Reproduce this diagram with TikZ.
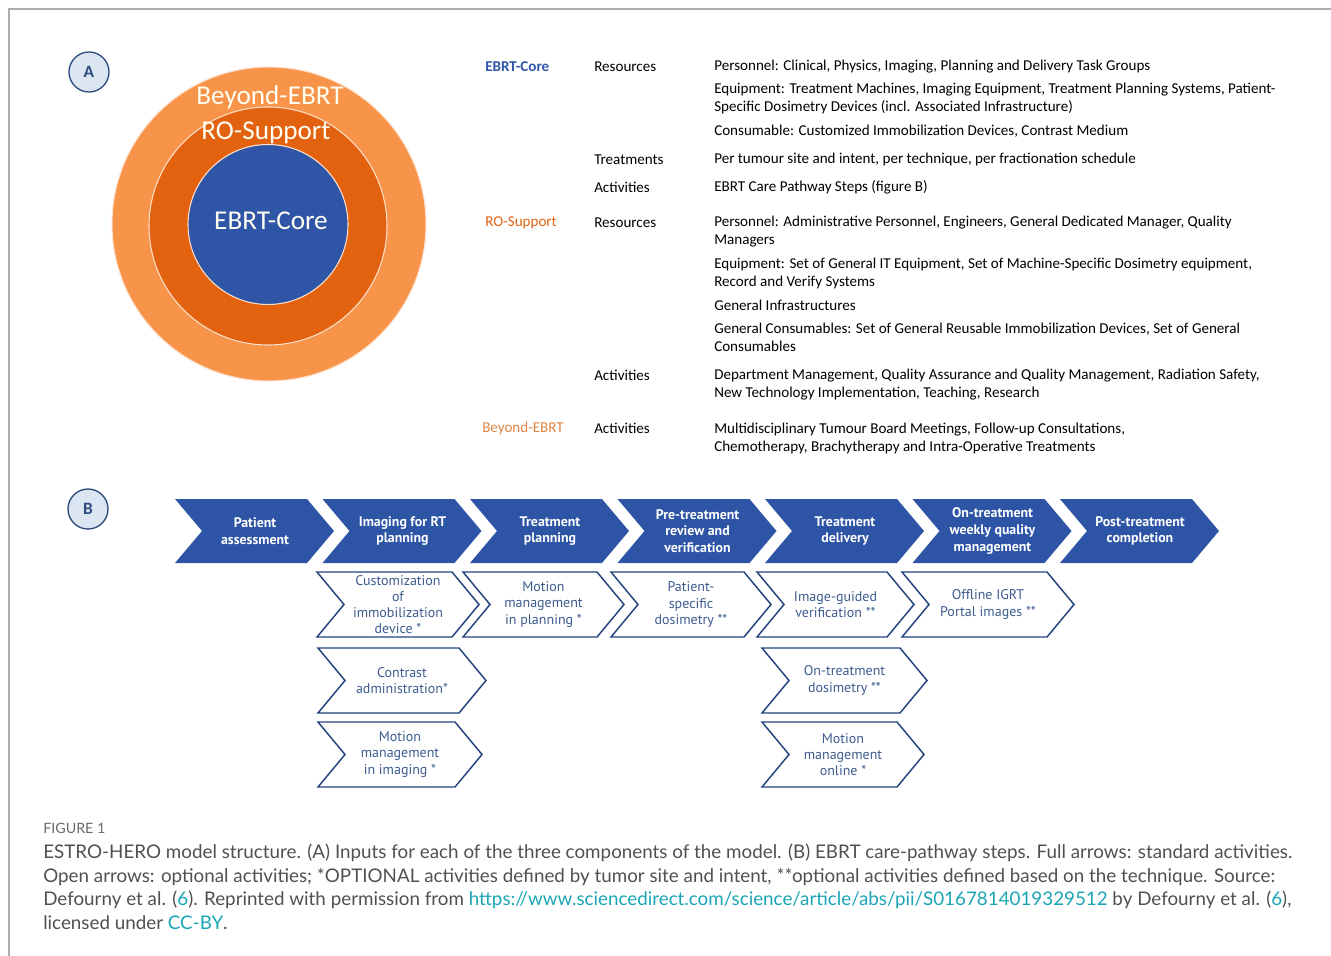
\documentclass[tikz,border=0pt]{standalone}
\usepackage{fontspec}
\setmainfont{Carlito}
\newfontfamily\stepfont{PT Sans}
\newfontfamily\capfont{Lato}
\usetikzlibrary{positioning}
\definecolor{coreblue}{HTML}{2F56A6}
\definecolor{suporange}{HTML}{E2620F}
\definecolor{beyorange}{HTML}{F7944A}
\definecolor{stepblue}{HTML}{2E55A5}
\definecolor{stepline}{HTML}{24437E}
\definecolor{opttext}{HTML}{3D5C8F}
\definecolor{tagdark}{HTML}{2D4C7E}
\definecolor{taglight}{HTML}{DCE6F2}
\definecolor{capgrey}{HTML}{505050}
\definecolor{linkteal}{HTML}{1AA5B5}
\definecolor{framegrey}{gray}{0.68}
\tikzset{
  ring/.style={circle,inner sep=0pt,draw=white!70!beyorange,line width=0.8pt},
  ringtxt/.style={text=white!95!yellow,font=\fontsize{20.4}{20.4}\selectfont,inner sep=0pt},
  tag/.style={circle,draw=tagdark,fill=taglight,line width=1pt,minimum size=30pt,
              inner sep=0pt,text=tagdark,font=\bfseries\fontsize{13}{13}\selectfont},
  entry/.style={anchor=west,align=left,inner sep=0pt,yshift=-1.2pt,
                font=\fontsize{11.3}{13.5}\selectfont},
  stepopen/.style={draw=stepline,fill=white,line width=1.1pt,line join=miter},
  steptxt/.style={text=white,align=center,inner sep=0pt,
                  font=\stepfont\bfseries\fontsize{10.4}{12.4}\selectfont},
  opttxt/.style={text=opttext,align=center,inner sep=0pt,
                 font=\stepfont\fontsize{10.5}{12.2}\selectfont},
}
\newcommand{\lnk}[1]{\textcolor{linkteal}{#1}}

\begin{document}
\begin{tikzpicture}[x=0.75pt,y=-0.75pt]
\useasboundingbox (0,0) rectangle (1331,956);
\draw[framegrey,line width=1.1pt] (9,956) -- (9,9) -- (1331,9);

\def\tip{27}

% ------------------------------------------------ A: the three rings
\node[tag] (tagA) at (89,72) {A};
\node[ring,fill=beyorange,minimum size=235.5pt] (beyond) at (269,224) {};
\node[ring,fill=suporange,minimum size=178.5pt] (support) at (268,226) {};
\node[ring,fill=coreblue,minimum size=120pt] (core) at (268,224.5) {};
\node[ringtxt] (lbeyond) at (270,97) {Beyond-EBRT};
\node[ringtxt] (lsupport) at (266,133) {RO-Support};
\node[ringtxt] (lcore) at (271,221) {EBRT-Core};

% ------------------------------------------------ A: inputs per component
\node[entry,text=coreblue,font=\bfseries\fontsize{11.3}{13.5}\selectfont] (gcore) at (485,65) {EBRT-Core};
\node[entry,text=suporange] (gsupport) at (485,221) {RO-Support};
\node[entry,text=beyorange!90!black] (gbeyond) at (482,427) {Beyond-EBRT};

\foreach \y/\k [count=\n] in {65/Resources,158/Treatments,186/Activities,
  221/Resources,374/Activities,427/Activities}
  {\node[entry] (kind\n) at (594,\y) {\k};}

\foreach \y/\t [count=\n] in {%
  65/{Personnel: Clinical, Physics, Imaging, Planning and Delivery Task Groups},
  97/{Equipment: Treatment Machines, Imaging Equipment, Treatment Planning Systems, Patient-\\Specific Dosimetry Devices (incl. Associated Infrastructure)},
  130/{Consumable: Customized Immobilization Devices, Contrast Medium},
  158/{Per tumour site and intent, per technique, per fractionation schedule},
  186/{EBRT Care Pathway Steps (figure B)},
  230/{Personnel: Administrative Personnel, Engineers, General Dedicated Manager, Quality\\Managers},
  271.5/{Equipment: Set of General IT Equipment, Set of Machine-Specific Dosimetry equipment,\\Record and Verify Systems},
  304/{General Infrastructures},
  336/{General Consumables: Set of General Reusable Immobilization Devices, Set of General\\Consumables},
  383/{Department Management, Quality Assurance and Quality Management, Radiation Safety,\\New Technology Implementation, Teaching, Research},
  436.5/{Multidisciplinary Tumour Board Meetings, Follow-up Consultations,\\Chemotherapy, Brachytherapy and Intra-Operative Treatments}}
  {\node[entry] (input\n) at (714,\y) {\t};}

% ------------------------------------------------ B: standard steps (full arrows)
\node[tag] (tagB) at (88,509) {B};
\foreach \t [count=\n from 0] in {{Patient\\assessment},{Imaging for RT\\planning},
  {Treatment\\planning},{Pre-treatment\\review and\\verification},{Treatment\\delivery},
  {On-treatment\\weekly quality\\management},{Post-treatment\\completion}}{
  \pgfmathsetmacro{\xl}{175+147.5*\n}
  \fill[stepblue] (\xl,499) -- ++(132,0) -- ++(\tip,32) -- ++(-\tip,32)
    -- ++(-132,0) -- ++(\tip,-32) -- cycle;
  \node[steptxt] (step\n) at (\xl+80,531) {\t};
}

% ------------------------------------------------ B: optional steps (open arrows)
\foreach \xl/\yt/\w/\t [count=\n] in {%
  317/572/135/{Customization\\of\\immobilization\\device *},
  463/572/134/{Motion\\management\\in planning *},
  611/572/133/{Patient-\\specific\\dosimetry **},
  757/572/130/{Image-guided\\verification **},
  902/572/145/{Offline IGRT\\Portal images **},
  318/648/141/{Contrast\\administration*},
  762/648/138/{On-treatment\\dosimetry **},
  318/722/137/{Motion\\management\\in imaging *},
  762/722/135/{Motion\\management\\online *}}{
  \draw[stepopen] (\xl,\yt) -- ++(\w,0) -- ++(\tip,32.5) -- ++(-\tip,32.5)
    -- ++(-\w,0) -- ++(\tip,-32.5) -- cycle;
  \node[opttxt] (opt\n) at (\xl+\w/2+\tip/2,\yt+32.5) {\t};
}

% ------------------------------------------------ caption
\node[anchor=west,inner sep=0pt,text=capgrey!85!white,
      font=\capfont\fontsize{10.7}{10.7}\selectfont] (capnum) at (43,828) {FIGURE 1};
\node[anchor=north west,align=left,inner sep=0pt,text=capgrey,
      font=\capfont\fontsize{14.1}{17.6}\selectfont] (captext) at (43,844)
  {ESTRO-HERO model structure. (A) Inputs for each of the three components of the model. (B) EBRT care-pathway steps. Full arrows: standard activities.\\
   Open arrows: optional activities; *OPTIONAL activities defined by tumor site and intent, **optional activities defined based on the technique. Source:\\
   Defourny et al. (\lnk{6}). Reprinted with permission from \lnk{https://www.sciencedirect.com/science/article/abs/pii/S0167814019329512} by Defourny et al. (\lnk{6}),\\
   licensed under \lnk{CC-BY}.};
\end{tikzpicture}
\end{document}
